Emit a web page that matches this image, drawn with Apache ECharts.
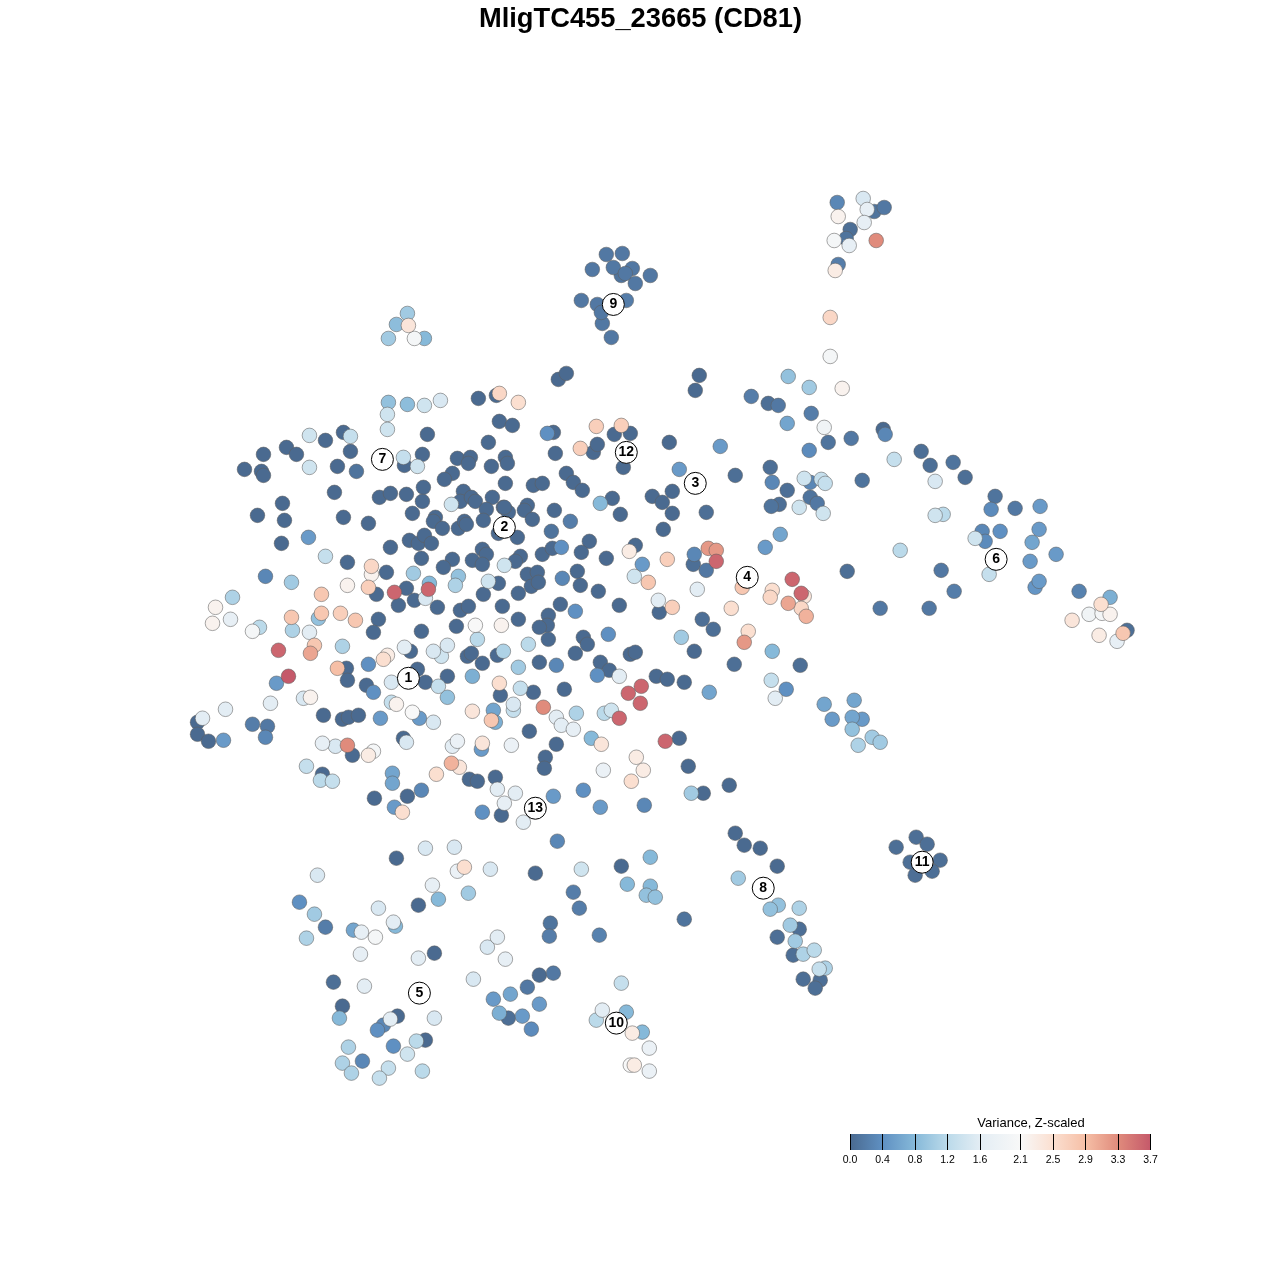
<!DOCTYPE html>
<html><head><meta charset="utf-8">
<style>html,body{margin:0;padding:0;background:#fff}#c{width:1280px;height:1280px}</style>
<script src="https://cdn.jsdelivr.net/npm/echarts@6/dist/echarts.min.js"></script>
</head><body><div id="c"></div>
<script>
// [tsne1, tsne2, variance], one list per region
const upperLeft = [[388,402,.9],[407,404,.85],[424,405,1.4],[440,400,1.5],[387,414,1.4],[387,429,1.4],[478,398,0],[496,395,0],[499,393,2.6],[518,402,2.5],[499,421,0],[512,425,0],[427,434,0],[488,442,0],[309,435,1.4],[325,440,0],[343,432,0],[350,436,1.3],[350,451,0],[263,454,0],[286,447,0],[296,454,0],[244,469,0],[261,471,0],[263,475,0],[309,467,1.4],[337,466,0],[356,471,.1],[403,457,1.3],[404,465,0],[417,466,1.4],[422,454,0],[457,458,0],[470,457,0],[468,463,0],[491,466,0],[505,457,0],[507,463,0],[452,473,0],[444,479,0],[505,483,0],[334,492,0],[379,497,0],[390,493,0],[406,494,0],[423,487,0],[422,501,0],[451,504,1.4],[463,491,0],[460,501,0],[471,497,0],[475,501,0],[492,497,0],[486,509,0],[503,507,0],[508,512,0],[282,503,0],[257,515,0],[284,520,0],[343,517,0],[368,523,0],[412,513,0],[435,517,0],[433,521,0],[442,528,0],[458,528,0],[464,521,0],[466,524,0],[483,520,0],[498,533,0],[308,537,.5],[281,543,0],[325,556,1.3],[347,562,0],[390,547,0],[409,540,0],[418,543,0],[424,535,0],[431,543,0],[421,558,0],[452,559,0],[443,567,0],[472,560,0],[482,549,0],[486,554,0],[482,564,0],[504,565,1.4]];
const centerLeft = [[265,576,.3],[291,582,1],[371,566,2.6],[371,574,2.2],[347,585,2.2],[368,587,2.7],[386,572,0],[413,573,1],[458,576,.9],[455,585,1.1],[488,581,1.4],[498,583,0],[376,594,0],[394,592,3.6],[406,588,0],[429,583,.8],[428,589,3.6],[425,598,1.5],[414,600,0],[398,605,0],[437,607,0],[460,610,0],[468,606,0],[483,594,0],[502,606,0],[232,597,1.1],[215,607,2.2],[212,623,2.2],[230,619,1.7],[259,627,1.2],[252,631,2],[321,594,2.8],[291,617,2.8],[318,618,.9],[321,613,2.8],[340,613,2.7],[355,620,2.8],[292,630,1.1],[309,632,1.6],[314,645,2.8],[310,653,3.1],[378,619,0],[373,632,0],[421,631,0],[456,626,0],[475,625,2.1],[501,625,2.2],[477,639,1.2],[278,650,3.6],[288,676,3.7],[276,683,.5],[342,646,1.1],[404,647,1.6],[410,651,0],[383,659,2.5],[387,655,2.3],[368,664,.4],[337,668,2.9],[346,668,0],[347,680,0],[366,685,0],[373,692,.4],[433,651,1.5],[441,656,1.4],[447,645,1.5],[467,656,0],[471,653,0],[482,663,0],[497,655,0],[503,651,1.1],[417,669,0],[391,682,1.5],[425,682,0],[438,686,1.3],[447,676,0],[472,676,.7],[499,683,2.5],[500,695,0],[447,697,.9]];
const upperCenter = [[547,433,.4],[553,432,0],[580,448,2.7],[593,452,0],[597,444,0],[596,426,2.7],[621,425,2.7],[614,434,0],[630,433,0],[555,453,0],[669,442,0],[679,469,.5],[623,467,0],[566,473,0],[573,482,0],[582,490,0],[533,485,0],[542,483,0],[600,503,.8],[612,498,0],[620,514,0],[652,496,0],[662,502,0],[672,491,0],[672,513,0],[663,529,0],[504,507,0],[527,505,0],[524,510,0],[532,519,0],[554,510,0],[570,521,.2],[551,531,.1],[517,537,0],[520,556,0],[515,561,0],[542,554,0],[552,548,0],[561,547,.4],[589,541,0],[581,552,0],[606,558,0],[635,545,0],[629,551,2.3],[642,564,.5],[667,559,2.7],[634,576,1.4],[648,582,2.8],[658,600,1.6],[672,607,2.7],[659,612,0],[619,605,0],[527,574,0],[537,572,0],[531,586,0],[538,582,0],[577,571,0],[562,578,.3],[580,585,0],[598,591,0],[518,593,0],[560,604,0],[575,611,.4],[518,619,0],[548,615,0],[547,625,0],[539,627,0],[548,639,0]];
const centerMiddle = [[583,637,0],[587,644,0],[608,634,.4],[681,637,1],[694,651,0],[528,644,1.2],[575,653,0],[630,654,0],[635,652,0],[539,662,0],[556,665,.3],[518,667,1],[600,662,0],[609,670,0],[597,675,.4],[619,676,1.6],[656,676,0],[667,679,0],[684,682,0],[520,688,1.3],[533,692,0],[564,689,0],[641,686,3.6],[628,693,3.6],[640,703,3.6],[543,707,3.3],[576,713,1.1],[513,704,1.5],[513,710,1.3],[493,710,.6],[472,711,2.4],[491,720,2.8],[495,722,.7],[556,717,1.6],[561,725,1.6],[573,729,1.7],[604,713,1.2],[611,710,1.4],[619,718,3.6],[529,731,0],[556,744,0],[545,757,0],[544,768,0],[591,738,.8],[601,744,2.4],[665,741,3.6],[679,738,0],[511,745,1.8],[636,757,2.3],[643,770,2.3],[631,781,2.5],[603,770,1.8],[688,766,0],[729,785,0],[691,793,1],[703,793,0],[469,779,0],[477,781,0],[495,777,0],[497,789,1.6],[515,793,1.6],[504,803,1.7],[482,812,.4],[501,815,0],[523,822,1.6],[553,796,.5],[583,790,.4],[600,807,.5],[644,805,.3],[557,841,.3]];
const lowerLeft = [[225,709,1.6],[202,718,1.6],[197,722,0],[197,734,0],[208,741,0],[223,740,.5],[252,724,.2],[267,726,.15],[265,737,.3],[270,703,1.6],[303,698,1.5],[310,697,2.2],[323,715,0],[342,719,0],[348,717,0],[358,715,0],[380,718,.5],[391,702,1.3],[396,704,2.2],[412,712,2.1],[419,718,.5],[433,722,1.5],[322,743,1.7],[335,746,1.5],[347,745,3.3],[352,755,0],[373,751,2],[368,755,2.3],[403,738,0],[406,742,1.5],[452,746,1.6],[457,741,1.8],[482,743,2.4],[481,749,.5],[306,766,1.3],[322,774,0],[320,780,1.2],[332,781,1.3],[392,773,.6],[392,783,.6],[436,774,2.5],[451,763,3],[459,767,2.4],[374,798,0],[407,796,0],[421,790,.3],[394,807,.5],[402,812,2.5]];
const bottomLeft = [[425,848,1.5],[454,847,1.5],[396,858,0],[464,867,2.5],[457,871,1.8],[317,875,1.5],[490,869,1.5],[535,873,0],[432,885,1.7],[438,899,.8],[418,905,0],[468,893,1],[299,902,.4],[314,914,1],[325,927,.2],[306,938,1.1],[353,930,.6],[361,932,1.7],[378,908,1.5],[375,937,2],[393,922,1.6],[395,926,.8],[360,954,1.7],[418,958,1.6],[434,953,0],[573,892,.2],[579,908,.2],[550,923,.1],[549,936,.2],[497,937,1.6],[487,947,1.5],[505,959,1.7],[473,979,1.5],[553,973,.15],[539,975,0],[527,987,.15],[493,999,.5],[510,994,.6],[539,1004,.5],[499,1013,.7],[508,1018,.05],[522,1016,.5],[531,1029,.35],[333,982,.05],[364,986,1.6],[342,1006,0],[339,1018,.8],[397,1016,0],[390,1019,1.6],[383,1025,.3],[377,1030,.4],[434,1018,1.5],[425,1040,0],[416,1041,1.2],[393,1046,.4],[407,1054,1.4],[348,1047,1.1],[342,1063,1.1],[362,1061,.3],[351,1073,1.1],[388,1068,1.3],[379,1078,1.3],[422,1071,1.2]];
const bottomRight = [[650,857,.8],[581,869,1.4],[621,866,0],[627,884,.8],[650,886,.8],[646,895,.9],[655,897,.9],[684,919,.1],[599,935,.25],[621,983,1.3],[602,1010,1.6],[626,1012,.8],[596,1020,1.2],[632,1033,2.3],[642,1032,.8],[649,1048,1.8],[630,1065,2.1],[634,1065,2.3],[649,1071,1.8],[735,833,0],[744,845,0],[760,848,0],[777,866,0],[738,878,1],[778,905,.9],[770,909,.9],[799,908,1.1],[790,925,1],[799,929,.05],[777,937,.05],[795,941,1],[793,955,.05],[803,954,1.1],[814,950,1.2],[825,968,1.1],[819,969,1.3],[803,979,.05],[820,980,.05],[815,988,.05],[896,847,.05],[916,837,.05],[927,844,.05],[910,862,.05],[940,860,.05],[932,871,.05],[915,875,.05]];
const upperRight = [[699,375,0],[695,390,0],[788,376,.9],[809,387,1],[842,388,2.2],[751,396,.2],[768,403,.05],[778,405,.15],[811,413,.2],[787,423,.6],[824,427,1.9],[828,442,.1],[851,438,.15],[883,429,0],[885,434,.3],[720,446,.5],[809,450,.35],[894,459,1.3],[921,451,.05],[930,465,.05],[953,462,.1],[965,477,.05],[935,481,1.5],[770,467,.05],[735,475,.05],[772,482,.3],[804,478,1.4],[810,482,.3],[821,479,1.3],[825,483,1.3],[862,480,.1],[787,490,.05],[810,497,.1],[817,503,.15],[779,504,.05],[771,506,.1],[799,507,1.4],[823,513,1.4],[706,512,.05],[935,515,1.4],[943,514,1.2],[780,534,.6],[765,547,.5],[900,550,1.2],[708,548,3.2],[716,550,3.2],[694,554,.3],[693,564,.05],[716,561,3.6],[706,570,.15],[847,571,.05],[941,570,.15],[954,591,.2],[880,608,.15],[929,608,.15]];
const centerRight = [[742,587,2.8],[697,589,1.6],[772,590,2.5],[770,597,2.6],[792,579,3.6],[801,593,3.6],[804,596,2.4],[788,603,3.1],[801,608,2.6],[806,616,3],[731,608,2.5],[748,631,2.5],[744,642,3.2],[702,619,.05],[713,629,.05],[772,651,.8],[734,664,.05],[800,665,.05],[771,680,1.3],[786,689,.4],[775,698,1.6],[709,692,.6],[824,704,.6],[854,700,.6],[832,719,.5],[852,717,.6],[862,719,.5],[852,729,.9],[872,737,1],[880,742,1],[858,745,1.1]];
const farRight = [[995,496,.1],[991,509,.35],[1015,508,.15],[1040,506,.5],[1000,531,.4],[1039,529,.5],[982,531,.3],[985,541,.35],[975,538,1.4],[1032,542,.6],[1056,554,.5],[1030,561,.5],[989,574,1.3],[1039,581,.5],[1035,587,.45],[1079,591,.25],[1110,597,.7],[1101,604,2.5],[1089,614,1.9],[1102,613,2],[1110,614,2.2],[1072,620,2.4],[1127,630,.05],[1123,633,2.8],[1099,635,2.3],[1117,641,1.7]];
const topClusters = [[837,202,.3],[863,198,1.5],[867,209,1.7],[874,211,.1],[884,207,.15],[838,216,2.2],[864,222,1.7],[850,229,.05],[846,238,.1],[834,240,2],[849,245,1.7],[876,240,3.3],[838,264,.2],[835,270,2.3],[830,317,2.6],[830,356,2],[606,254,.15],[622,253,.15],[592,269,.15],[613,267,.15],[632,268,.15],[621,275,.1],[625,273,.15],[650,275,.15],[635,283,.15],[581,300,.15],[597,304,.15],[626,300,.2],[602,323,.15],[601,312,.15],[611,337,.15],[407,313,1],[396,324,.85],[408,325,2.4],[388,338,1],[414,338,2],[424,338,.8],[558,379,0],[566,373,0]];

const clusterIds = ["1","2","3","4","5","6","7","8","9","10","11","12","13"];
const clusterX = [408,504,695,747,419,996,382,763,613,616,922,626,535];
const clusterY = [678,527,483,577,993,559,459,888,304,1023,862,452,808];

const legendTicks = [0,.4,.8,1.2,1.6,2.1,2.5,2.9,3.3,3.7];
const legendColors = ["#4a6a90","#5f90c2","#86b9d9","#bbdaea","#e3edf4","#f8f8f8","#fbdfd0","#f6bfa6","#e08b7c","#c5596a"];

const allPoints = [].concat(upperLeft,centerLeft,upperCenter,centerMiddle,lowerLeft,bottomLeft,bottomRight,upperRight,centerRight,farRight,topClusters)
  .slice().sort((a,b)=>a[2]-b[2]);

function hex(c){return [1,3,5].map(i=>parseInt(c.substr(i,2),16));}
function colorFor(v){
  let i=0; while(i<legendTicks.length-2 && v>legendTicks[i+1]) i++;
  const t=Math.min(1,Math.max(0,(v-legendTicks[i])/(legendTicks[i+1]-legendTicks[i])));
  const a=hex(legendColors[i]),b=hex(legendColors[i+1]);
  return 'rgb('+a.map((x,k)=>Math.round(x+(b[k]-x)*t)).join(',')+')';
}
const font='"Liberation Sans", Arial, sans-serif';
const chart=echarts.init(document.getElementById('c'),null,{renderer:'canvas'});
chart.setOption({
  animation:false,backgroundColor:'#fff',
  title:[
    {text:'MligTC455_23665 (CD81)',left:635.5,top:1,textAlign:'center',textStyle:{fontFamily:font,fontWeight:'bold',fontSize:27.3,color:'#000'}},
    {text:'Variance, Z-scaled',left:1026,top:1112,textAlign:'center',textStyle:{fontFamily:font,fontWeight:'normal',fontSize:13,color:'#000'}}
  ],
  grid:[{left:0.6,top:0.6,width:1280,height:1280},{left:850,top:1134,width:300.5,height:16}],
  xAxis:[
    {gridIndex:0,type:'value',min:0,max:1280,show:false},
    {gridIndex:1,type:'value',min:0,max:3.7,z:10,
     axisLine:{show:false},splitLine:{show:false},
     axisTick:{show:true,inside:true,length:16,customValues:legendTicks,lineStyle:{color:'#000',width:1}},
     axisLabel:{show:true,customValues:legendTicks,margin:5,fontFamily:font,fontSize:10.5,color:'#000',
       formatter:v=>Number(v).toFixed(1),showMinLabel:true,showMaxLabel:true,hideOverlap:false}}
  ],
  yAxis:[
    {gridIndex:0,type:'value',min:0,max:1280,inverse:true,show:false},
    {gridIndex:1,type:'value',min:0,max:1,show:false}
  ],
  series:[
    {type:'scatter',xAxisIndex:0,yAxisIndex:0,data:allPoints,symbolSize:14.6,large:false,progressive:0,silent:true,z:2,
     itemStyle:{color:p=>colorFor(p.value[2]),borderColor:'rgba(95,95,95,0.55)',borderWidth:1,opacity:1}},
    {type:'scatter',xAxisIndex:0,yAxisIndex:0,data:clusterX.map((x,i)=>({value:[x,clusterY[i]],name:clusterIds[i]})),symbolSize:22,silent:true,z:5,
     itemStyle:{color:'#fff',borderColor:'#000',borderWidth:1,opacity:1},
     label:{show:true,position:'inside',formatter:p=>p.name,fontFamily:font,fontWeight:'bold',fontSize:14,color:'#000'}},
    {type:'custom',xAxisIndex:1,yAxisIndex:1,silent:true,z:3,data:[[0,3.7]],clip:false,
     renderItem:(params,api)=>{
       const a=api.coord([api.value(0),1]),b=api.coord([api.value(1),0]);
       const span=legendTicks[legendTicks.length-1];
       return {type:'rect',shape:{x:a[0],y:a[1],width:b[0]-a[0],height:b[1]-a[1]},
         style:{fill:new echarts.graphic.LinearGradient(0,0,1,0,legendTicks.map((t,i)=>({offset:t/span,color:legendColors[i]})))}};
     }}
  ]
});
</script></body></html>
